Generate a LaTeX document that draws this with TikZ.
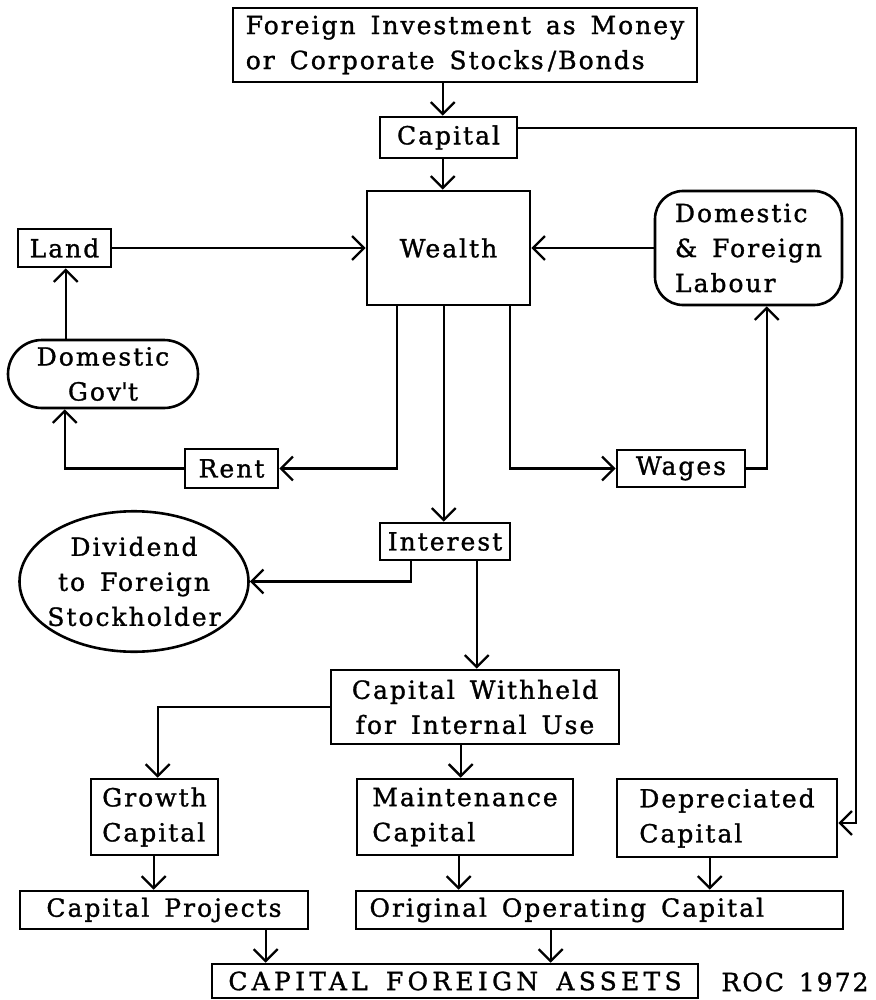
\documentclass[tikz,border=0pt]{standalone}
\usepackage{fontspec}
\setmainfont{DejaVu Serif}[LetterSpace=8,WordSpace=1.5,FakeBold=1.2]
\usetikzlibrary{arrows.meta,calc,shapes.geometric}
\begin{document}
\begin{tikzpicture}[x=1pt,y=-1pt,
  bx/.style={draw, line width=2.6pt, inner sep=0pt, font=\fontsize{25}{35}\selectfont},
  arr/.style={line width=2.3pt, -{Straight Barb[length=12pt,width=24pt,line width=2.3pt]}}]
\useasboundingbox (0,0) rectangle (875,1000);
% nodes
\node[bx, minimum width=464pt, minimum height=74pt, align=left] (fi) at (465,45) {Foreign Investment as Money\\or Corporate Stocks\,/Bonds};
\node[bx, minimum width=137pt, minimum height=41pt] (cap) at (448.5,137.5) {Capital};
\node[bx, minimum width=163pt, minimum height=114pt] (wealth) at (448.5,248) {Wealth};
\node[bx, minimum width=93pt, minimum height=38pt] (land) at (64.5,248) {Land};
\node[bx, rounded corners=28pt, minimum width=187pt, minimum height=114pt, align=left] (labour) at (748.5,248) {Domestic\\\& Foreign\\Labour};
\node[bx, rounded corners=34pt, minimum width=190pt, minimum height=68pt, align=center] (gov) at (103,374) {Domestic\\Gov\textquotesingle t};
\node[bx, minimum width=93pt, minimum height=39pt] (rent) at (231.5,468.5) {Rent};
\node[bx, minimum width=128pt, minimum height=37pt] (wages) at (681,468.5) {Wages};
\node[bx, minimum width=130pt, minimum height=37pt] (interest) at (445,541.5) {Interest};
\node[bx, ellipse, inner xsep=-20pt, inner ysep=5pt, minimum width=229pt, minimum height=129pt, align=center] (dividend) at (134,581.5) {Dividend\\to Foreign\\Stockholder};
\node[bx, minimum width=288pt, minimum height=74pt, align=center] (withheld) at (475,707) {Capital Withheld\\for Internal Use};
\node[bx, minimum width=127pt, minimum height=76pt, align=left] (growth) at (154.5,817) {Growth\\Capital};
\node[bx, minimum width=216pt, minimum height=76pt, align=left] (maint) at (465,817) {Maintenance\\Capital};
\node[bx, minimum width=220pt, minimum height=78pt, align=left] (dep) at (727,818) {Depreciated\\Capital};
\node[bx, minimum width=288pt, minimum height=38pt] (proj) at (164,910) {Capital Projects};
\node[bx, minimum width=487pt, minimum height=38pt] (orig) at (599.5,910) {\makebox[460pt][l]{Original Operating Capital}};
\node[bx, minimum width=486pt, minimum height=34pt] (cfa) at (455,981) {\addfontfeature{LetterSpace=17}CAPITAL FOREIGN ASSETS};
\node[inner sep=0pt, font=\fontsize{25}{35}\selectfont] (roc) at (795,982) {ROC 1972};
\coordinate (rc) at (856,823);
% connectors
\draw[arr] ([xshift=211pt]fi.south west) -- ([xshift=64pt]cap.north west);
\draw[arr] ([xshift=64pt]cap.south west) -- ([xshift=77pt]wealth.north west);
\draw[arr] ([yshift=9.5pt]cap.east) -| (rc) -- (rc -| dep.east);
\draw[arr] (land.east) -- (land.east -| wealth.west);
\draw[arr] (labour.west) -- (labour.west -| wealth.east);
\draw[arr] ([xshift=59pt]gov.north west) -- ([xshift=49pt]land.south west);
\draw[arr] ([xshift=31pt]wealth.south west) |- (rent.east);
\draw[arr] (rent.west) -| ([xshift=58pt]gov.south west);
\draw[arr] ([xshift=-21pt]wealth.south east) |- (wages.west);
\draw[arr] (wages.east) -| ([xshift=113pt]labour.south west);
\draw[arr] ([xshift=78pt]wealth.south west) -- ([xshift=65pt]interest.north west);
\draw[arr] ([xshift=32pt]interest.south west) |- (dividend.east);
\draw[arr] ([xshift=98pt]interest.south west) -- ([xshift=147pt]withheld.north west);
\draw[arr] (withheld.west) -| ([xshift=68pt]growth.north west);
\draw[arr] ([xshift=131pt]withheld.south west) -- ([xshift=105pt]maint.north west);
\draw[arr] ([xshift=64pt]growth.south west) -- ([xshift=135pt]proj.north west);
\draw[arr] ([xshift=103pt]maint.south west) -- ([xshift=104pt]orig.north west);
\draw[arr] ([xshift=94pt]dep.south west) -- ([xshift=355pt]orig.north west);
\draw[arr] ([xshift=247pt]proj.south west) -- ([xshift=55pt]cfa.north west);
\draw[arr] ([xshift=196pt]orig.south west) -- ([xshift=340pt]cfa.north west);
\end{tikzpicture}
\end{document}
